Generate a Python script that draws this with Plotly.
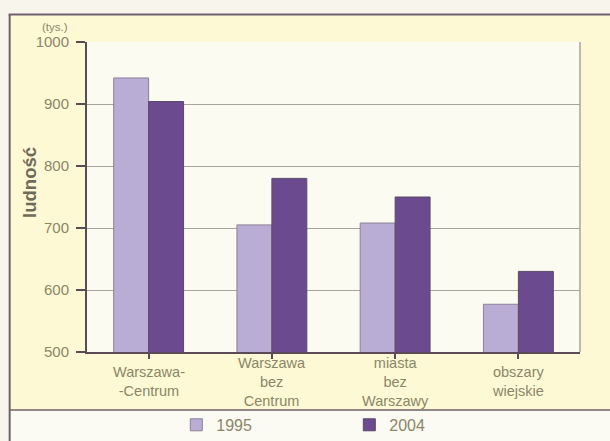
import plotly.graph_objects as go

# Population (thousands) by area type
categories = ["Warszawa-\n-Centrum", "Warszawa\nbez\nCentrum", "miasta\nbez\nWarszawy", "obszary\nwiejskie"]
series_names = ["1995", "2004"]
values_1995 = [942, 705, 708, 577]
values_2004 = [904, 780, 750, 630]
y_ticks = [500, 600, 700, 800, 900, 1000]

W, H = 610, 441
L, R, T, B = 86.5, 580.5, 41.5, 352.0  # plot area in pixels


def px(x):
    return (x - L) / (R - L)


def py(y):
    return (B - y) / (B - T)


FONT = "Liberation Sans, Arial, sans-serif"
TEXT = "#8b8668"
DARK = "#5c4a56"
GRID = "#aaa59c"

fig = go.Figure()
fig.add_trace(go.Bar(
    x=list(range(len(categories))), y=values_1995, name=series_names[0],
    marker=dict(color="#b9add5", line=dict(color="#8d8198", width=1)),
))
fig.add_trace(go.Bar(
    x=list(range(len(categories))), y=values_2004, name=series_names[1],
    marker=dict(color="#6b4a90", line=dict(color="#5a4a66", width=1)),
))

shapes = [
    # yellow panel behind the chart
    dict(type="rect", xref="paper", yref="paper", layer="below",
         x0=px(9), x1=px(611), y0=py(410), y1=py(14),
         fillcolor="#fdf9d4", line=dict(width=0)),
    # legend strip
    dict(type="rect", xref="paper", yref="paper", layer="below",
         x0=px(9), x1=px(611), y0=py(442), y1=py(410),
         fillcolor="#fbfaf3", line=dict(width=0)),
    # plot area fill
    dict(type="rect", xref="paper", yref="paper", layer="below",
         x0=0, x1=1, y0=0, y1=1,
         fillcolor="#fcfbf1", line=dict(width=0)),
    # right border of plot area
    dict(type="line", xref="paper", yref="paper",
         x0=1, x1=1, y0=0, y1=1, line=dict(color=GRID, width=1.5)),
    # outer frame
    dict(type="line", xref="paper", yref="paper",
         x0=px(8), x1=px(611), y0=py(14), y1=py(14), line=dict(color="#6e6070", width=2)),
    dict(type="line", xref="paper", yref="paper",
         x0=px(9), x1=px(9), y0=py(442), y1=py(14), line=dict(color="#6e6070", width=2)),
    dict(type="line", xref="paper", yref="paper",
         x0=px(9), x1=px(611), y0=py(410), y1=py(410), line=dict(color="#6e6266", width=1.5)),
]

annotations = [
    dict(text="(tys.)", x=px(54), y=py(26.5), xref="paper", yref="paper",
         xanchor="center", yanchor="middle",
         showarrow=False, font=dict(family=FONT, size=11.5, color=TEXT)),
    dict(text="<b>ludność</b>", x=px(29), y=py(182), xref="paper", yref="paper",
         xanchor="center", yanchor="middle",
         textangle=-90, showarrow=False, font=dict(family=FONT, size=18.5, color="#706b58")),
]
for i, c in enumerate(categories):
    annotations.append(dict(
        text=c.replace("\n", "<br>"), x=i, y=py(382), xref="x", yref="paper",
        xanchor="center", yanchor="middle", showarrow=False,
        font=dict(family=FONT, size=14.5, color=TEXT),
    ))

fig.update_layout(
    width=W, height=H,
    margin=dict(l=L, r=W - R, t=T, b=H - B, pad=0, autoexpand=False),
    paper_bgcolor="#f8f6ec",
    plot_bgcolor="#fcfbf1",
    barmode="group", bargap=0.433, bargroupgap=0,
    font=dict(family=FONT, size=14, color=TEXT),
    shapes=shapes, annotations=annotations,
    showlegend=True,
    legend=dict(orientation="h", x=px(176), y=py(425), xanchor="left", yanchor="middle",
                bgcolor="rgba(0,0,0,0)", font=dict(family=FONT, size=16, color=TEXT),
                entrywidth=128, entrywidthmode="pixels", itemclick=False),
    xaxis=dict(range=[-0.5, 3.5], tickmode="array", tickvals=list(range(len(categories))),
               showticklabels=False, tickson="boundaries", ticks="outside", ticklen=5,
               tickcolor=DARK, tickwidth=1.5, showgrid=False, showline=True,
               linecolor=DARK, linewidth=2, zeroline=False, fixedrange=True),
    yaxis=dict(range=[500, 1000], tickvals=y_ticks, ticks="outside", ticklen=9,
               tickcolor=DARK, tickwidth=1.5, showline=True, linecolor=DARK, linewidth=2,
               gridcolor=GRID, gridwidth=1, zeroline=False, ticklabelstandoff=4,
               tickfont=dict(family=FONT, size=15, color=TEXT), fixedrange=True),
)

fig.write_html("out.html")
